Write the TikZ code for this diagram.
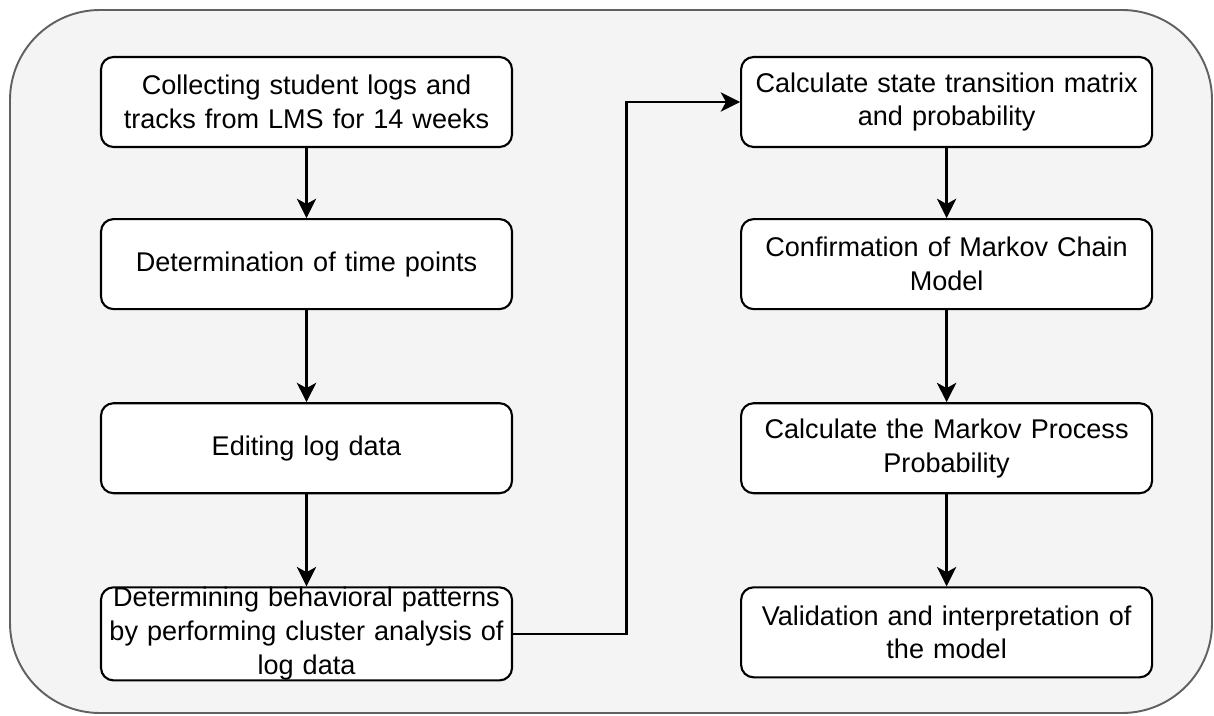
\documentclass[tikz,border=0pt]{standalone}
\usepackage{fontspec}
\setmainfont{Liberation Sans}
\usepackage{xcolor}
\usepackage{tikz}
\usetikzlibrary{arrows.meta,positioning,calc}

\definecolor{panelfill}{HTML}{F5F4F5}
\definecolor{panelline}{HTML}{616161}

\begin{document}
\begin{tikzpicture}[
  >={Stealth[length=11pt,width=11pt,inset=3pt]},
  node distance=1.4cm and 4.54cm,
  every node/.style={font=\fontsize{15.4}{19.3}\selectfont},
  stepbox/.style={draw=black, fill=white, rounded corners=0.25cm, line width=1.2pt,
    minimum width=8.22cm, minimum height=1.8cm, text width=8.0cm,
    inner sep=0pt, align=center},
  flow/.style={->, line width=1.3pt, black},
]
\useasboundingbox (0,0) rectangle (24.28,-14.32);
\draw[panelline, fill=panelfill, line width=1.1pt, rounded corners=1.8cm]
  (0.2,-0.2) rectangle (24.24,-14.26);
% left column
\node[stepbox] (collect) at (6.13,-2.04) {Collecting student logs and\\tracks from LMS for 14 weeks};
\node[stepbox, below=1.4cm of collect] (timepts) {Determination of time points};
\node[stepbox, below=1.84cm of timepts] (editlog) {Editing log data};
\node[stepbox, below=1.84cm of editlog] (cluster) {Determining behavioral patterns\\by performing cluster analysis of\\log data};
% right column
\node[stepbox, right=4.54cm of collect] (matrix) {Calculate state transition matrix\\and probability};
\node[stepbox, below=1.4cm of matrix] (confirm) {Confirmation of Markov Chain\\Model};
\node[stepbox, below=1.84cm of confirm] (process) {Calculate the Markov Process\\Probability};
\node[stepbox, below=1.84cm of process] (valid) {Validation and interpretation of\\the model};
\coordinate (turn) at ($(cluster.east)!0.5!(matrix.west)$);
\draw[flow] (collect) -- (timepts);
\draw[flow] (timepts) -- (editlog);
\draw[flow] (editlog) -- (cluster);
\draw[flow] (cluster.east) -| (turn) |- (matrix.west);
\draw[flow] (matrix) -- (confirm);
\draw[flow] (confirm) -- (process);
\draw[flow] (process) -- (valid);
\end{tikzpicture}
\end{document}
